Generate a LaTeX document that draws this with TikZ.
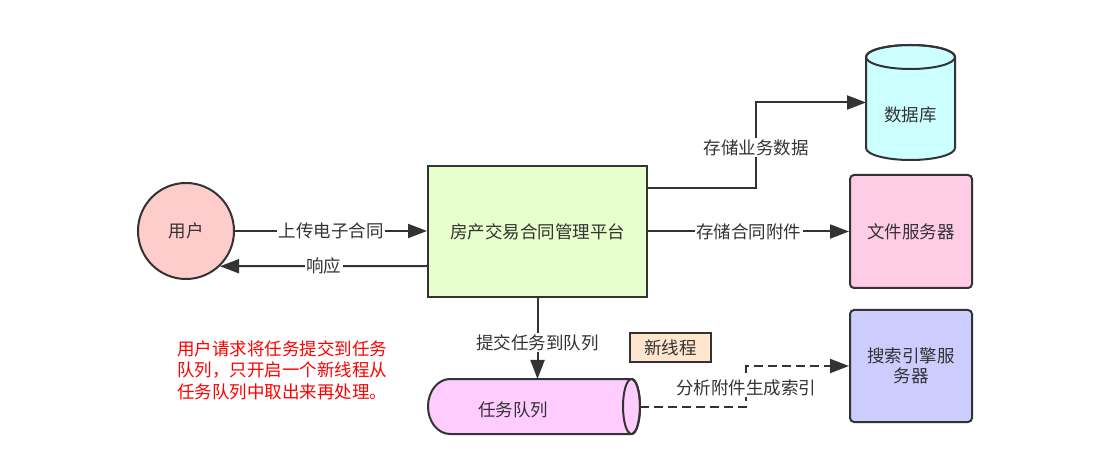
\documentclass[tikz,border=0pt]{standalone}
\usepackage{fontspec}
\setmainfont{Noto Sans CJK SC}
\usetikzlibrary{arrows.meta,calc}
\definecolor{ink}{HTML}{333333}
\definecolor{userfill}{HTML}{FFCCCC}
\definecolor{platfill}{HTML}{E6FFCC}
\definecolor{dbfill}{HTML}{CCFFFF}
\definecolor{filefill}{HTML}{FFCCE6}
\definecolor{searchfill}{HTML}{CCCCFF}
\definecolor{queuefill}{HTML}{FFCCFF}
\definecolor{threadfill}{HTML}{FFE6CC}
\tikzset{
  box/.style={draw=ink, line width=2pt, text=ink, inner sep=2pt},
  conn/.style={draw=ink, line width=2pt, -{Triangle[length=19pt,width=14pt]}},
  dashconn/.style={conn, dash pattern=on 9pt off 5pt},
  lbl/.style={fill=white, text=ink, inner sep=1.5pt},
  anchorbox/.style={inner sep=0pt, outer sep=0pt}
}
\begin{document}
\begin{tikzpicture}[x=1pt,y=1pt,font=\fontsize{17.5}{21.5}\selectfont]
\useasboundingbox (0,0) rectangle (1115,463);
\fill[white] (0,0) rectangle (1115,463);

% user
\node[box, circle, fill=userfill, minimum size=96pt, inner sep=0pt] (user) at (186,232) {用户};
% platform
\node[box, rectangle, fill=platfill, minimum width=219pt, minimum height=131pt] (platform) at (537.5,231.5) {房产交易合同管理平台};
% file server
\node[box, rounded corners=4pt, fill=filefill, minimum width=122pt, minimum height=113pt] (file) at (911,231.5) {文件服务器};
% search server
\node[box, rounded corners=4pt, fill=searchfill, minimum width=122pt, minimum height=112pt, align=center, font=\fontsize{17.5}{20}\selectfont] (search) at (911,97) {搜索引擎服\\务器};
% thread label
\node[box, fill=threadfill, minimum width=81pt, minimum height=29pt, inner sep=0pt] (thread) at (670.5,115.5) {新线程};

% database cylinder
\filldraw[fill=dbfill, draw=ink, line width=2pt]
  (866,406) -- (866,315) arc[start angle=180, end angle=360, x radius=44.5, y radius=12]
  -- (955,406) arc[start angle=0, end angle=180, x radius=44.5, y radius=12] -- cycle;
\draw[ink, line width=2pt] (910.5,406) ellipse [x radius=44.5, y radius=12];
\node[anchorbox, minimum width=89pt, minimum height=115pt] (db) at (910.5,360.5) {};
\node[text=ink] (dblabel) at (910.5,348) {数据库};

% queue cylinder
\filldraw[fill=queuefill, draw=ink, line width=2pt]
  (631.5,84) -- (450,84) arc[start angle=90, end angle=270, x radius=22, y radius=27.5]
  -- (631.5,29) arc[start angle=-90, end angle=90, x radius=8.5, y radius=27.5] -- cycle;
\draw[ink, line width=2pt] (631.5,56.5) ellipse [x radius=8.5, y radius=27.5];
\node[anchorbox, minimum width=212pt, minimum height=55pt] (queue) at (534,56.5) {};
\node[text=ink] (queuelabel) at (513,53) {任务队列};

% red note
\node[text=red, align=left, anchor=west, inner sep=0pt] (note) at (177,93)
  {用户请求将任务提交到任务\\队列，只开启一个新线程从\\任务队列中取出来再处理。};

% connectors
\draw[conn] (user.east) -- node[lbl]{上传电子合同} (platform.west |- user.east);
\draw[conn] ([yshift=-34.5pt]platform.west) -- node[lbl]{响应} (user.-46.8);
\coordinate (dbbend) at (756,275);
\draw[conn] ([yshift=43.5pt]platform.east) -- (dbbend)
  -- node[lbl,pos=0.47]{存储业务数据} (dbbend |- db.west) -- (db.west);
\draw[conn] (platform.east) -- node[lbl]{存储合同附件} (file.west);
\draw[conn] (platform.south) -- node[lbl,pos=0.55]{提交任务到队列} (platform.south |- queue.north);
\coordinate (qbend) at (746,56.5);
\draw[dashconn] (queue.east) -- (qbend)
  -- node[lbl,pos=0.47]{分析附件生成索引} (qbend |- search.west) -- (search.west);
\end{tikzpicture}
\end{document}
